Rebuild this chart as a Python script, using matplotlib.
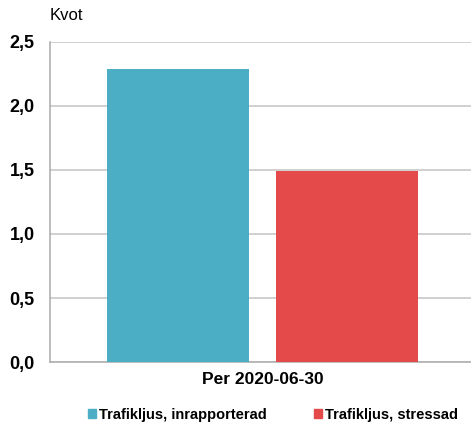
import matplotlib
matplotlib.use('Agg')
import matplotlib.pyplot as plt
from matplotlib.patches import Patch

series = ['Trafikljus, inrapporterad', 'Trafikljus, stressad']
values = [2.29, 1.49]
colors = ['#4BAEC5', '#E54A4A']
category = 'Per 2020-06-30'
yticks = [0.0, 0.5, 1.0, 1.5, 2.0, 2.5]

W, H = 471, 424
fig = plt.figure(figsize=(W / 100, H / 100), dpi=100)
ax = fig.add_axes([50 / W, 1 - 362 / H, 421 / W, 320 / H])

for i, (v, c) in enumerate(zip(values, colors)):
    ax.bar(i, v, width=0.84, color=c, zorder=3)

ax.set_xlim(-0.757, 1.734)
ax.set_ylim(0, 2.5)
ax.set_yticks(yticks)
ax.set_yticklabels([f'{t:.1f}'.replace('.', ',') for t in yticks],
                   fontsize=13, fontweight='bold', family='Liberation Sans')
ax.tick_params(axis='y', length=0, pad=11)
ax.set_xticks([])
ax.grid(axis='y', color='#c8c8c8', linewidth=1.2, zorder=0)
for s in ['top', 'right']:
    ax.spines[s].set_visible(False)
ax.spines['left'].set_color('#b0b0b0')
ax.spines['bottom'].set_color('#b0b0b0')
ax.spines['left'].set_linewidth(1.2)
ax.spines['bottom'].set_linewidth(1.2)

fig.text(50 / W, 1 - 16 / H, 'Kvot', fontsize=12, family='Liberation Sans', va='center')
fig.text(262.5 / W, 1 - 379 / H, category, fontsize=12.5, fontweight='bold',
         family='Liberation Sans', ha='center', va='center')

handles = [Patch(color=c) for c in colors]
fig.legend(handles, series, loc='center', bbox_to_anchor=(273 / W, 1 - 415 / H), ncol=2,
           frameon=False, handlelength=0.6, handleheight=0.6, handletextpad=0.2,
           columnspacing=3.2, borderpad=0,
           prop={'family': 'Liberation Sans', 'weight': 'bold', 'size': 10.5})

plt.savefig('out.png', dpi=100)
